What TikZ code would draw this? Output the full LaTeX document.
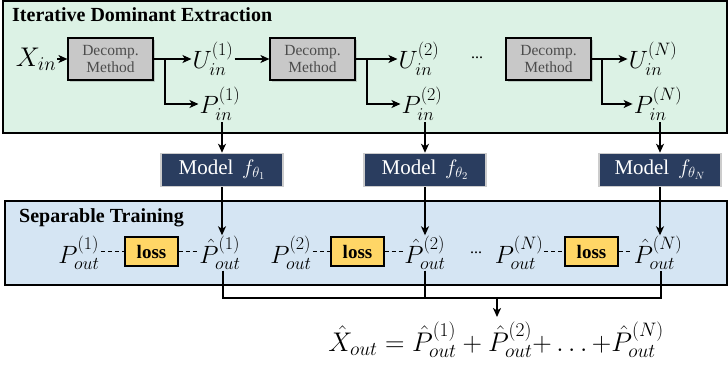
\RequirePackage{fix-cm}
\documentclass[tikz,border=0pt]{standalone}
\usepackage{amsmath}
\usepackage[no-math]{fontspec}
\setmainfont{Liberation Serif}
\usetikzlibrary{arrows.meta,shadows}
\definecolor{mygreen}{RGB}{220,242,229}
\definecolor{myblue}{RGB}{213,229,243}
\definecolor{mynavy}{RGB}{42,61,95}
\definecolor{mygray}{RGB}{200,200,200}
\definecolor{myyellow}{RGB}{255,214,102}
\DeclareMathSizes{25}{25}{18}{14}
\DeclareMathSizes{27}{27}{19.5}{15}

\begin{document}
\begin{tikzpicture}[x=1pt,y=-1pt,
  arr/.style={line width=1.3pt,-{Stealth[length=9pt,width=8pt,inset=2.5pt]}},
  ln/.style={line width=1.3pt},
  dsh/.style={line width=1pt,dash pattern=on 4pt off 3pt},
  decomp/.style={draw,line width=1.2pt,fill=mygray,minimum width=85pt,minimum height=42pt,
    align=center,text=black!70,font=\fontsize{15.5}{17}\selectfont,inner sep=0pt,
    drop shadow={shadow xshift=1.5pt,shadow yshift=-2pt,opacity=0.35}},
  model/.style={draw=black!20,line width=1.5pt,fill=mynavy,text=white,minimum width=122pt,
    minimum height=33pt,font=\fontsize{21}{24}\selectfont,inner sep=0pt},
  lossbox/.style={draw,line width=1.2pt,fill=myyellow,minimum width=53pt,minimum height=29pt,
    font=\fontsize{19}{22}\selectfont\bfseries,inner sep=0pt},
  sym/.style={font=\fontsize{25}{28}\selectfont,inner sep=1pt},
  ttl/.style={font=\fontsize{20}{24}\selectfont\bfseries,anchor=base west,inner sep=0pt}]
  \useasboundingbox (0,0) rectangle (728,368);

  % Panels
  \draw[line width=1.2pt,fill=mygreen] (3,1) rectangle (727,133);
  \draw[line width=1.2pt,fill=myblue] (5,201) rectangle (727,285);
  \node[ttl] (ttl1) at (12,21) {Iterative Dominant Extraction};
  \node[ttl] (ttl2) at (19,222) {Separable Training};

  % Extraction chain
  \node[sym,font=\fontsize{27}{30}\selectfont] (xin) at (36,59) {$X_{in}$};
  \node[decomp] (dm1) at (110.5,59) {Decomp.\\Method};
  \node[sym] (u1) at (213,59) {$U_{in}^{(1)}$};
  \node[sym] (p1) at (220,104) {$P_{in}^{(1)}$};
  \node[decomp] (dm2) at (312.5,59) {Decomp.\\Method};
  \node[sym] (u2) at (419,59) {$U_{in}^{(2)}$};
  \node[sym] (p2) at (422,104) {$P_{in}^{(2)}$};
  \node[font=\fontsize{16}{18}\selectfont] (dots1) at (477,58) {...};
  \node[decomp] (dm3) at (548.5,59) {Decomp.\\Method};
  \node[sym] (u3) at (653,59) {$U_{in}^{(N)}$};
  \node[sym] (p3) at (658,104) {$P_{in}^{(N)}$};

  \coordinate (b1) at (165,59);
  \coordinate (b2) at (367,59);
  \coordinate (b3) at (602,59);

  \draw[arr] (xin) -- (dm1);
  \draw[ln] (dm1.east) -- (b1);
  \draw[arr] (b1) -- (u1.west);
  \draw[arr] (b1) |- (p1.west);
  \draw[arr] (u1) -- (dm2);
  \draw[ln] (dm2.east) -- (b2);
  \draw[arr] (b2) -- (u2.west);
  \draw[arr] (b2) |- (p2.west);
  \draw[ln] (dm3.east) -- (b3);
  \draw[arr] (b3) -- (u3.west);
  \draw[arr] (b3) |- (p3.west);

  % Models
  \node[model] (md1) at (222,170) {Model \,$f_{\theta_1}$};
  \node[model] (md2) at (425,170) {Model \,$f_{\theta_2}$};
  \node[model] (md3) at (660,170) {Model \,$f_{\theta_N}$};

  \draw[arr] (p1.south -| md1.north) -- (md1.north);
  \draw[arr] (p2.south -| md2.north) -- (md2.north);
  \draw[arr] (p3.south -| md3.north) -- (md3.north);

  % Training row
  \node[sym] (po1) at (79,253) {$P_{out}^{(1)}$};
  \node[lossbox] (ls1) at (151.5,251.5) {loss};
  \node[sym] (ph1) at (220,253) {$\hat{P}_{out}^{(1)}$};
  \node[sym] (po2) at (291,253) {$P_{out}^{(2)}$};
  \node[lossbox] (ls2) at (357.5,251.5) {loss};
  \node[sym] (ph2) at (425,253) {$\hat{P}_{out}^{(2)}$};
  \node[font=\fontsize{16}{18}\selectfont] (dots2) at (476,253) {...};
  \node[sym] (po3) at (519,253) {$P_{out}^{(N)}$};
  \node[lossbox] (ls3) at (591.5,251.5) {loss};
  \node[sym] (ph3) at (658,253) {$\hat{P}_{out}^{(N)}$};

  \draw[arr] (md1.south) -- (ph1.north -| md1.south);
  \draw[arr] (md2.south) -- (ph2.north -| md2.south);
  \draw[arr] (md3.south) -- (ph3.north -| md3.south);

  \draw[dsh] (po1.east |- ls1) -- (ls1.west);
  \draw[dsh] (ls1.east) -- (ph1.west |- ls1);
  \draw[dsh] (po2.east |- ls2) -- (ls2.west);
  \draw[dsh] (ls2.east) -- (ph2.west |- ls2);
  \draw[dsh] (po3.east |- ls3) -- (ls3.west);
  \draw[dsh] (ls3.east) -- (ph3.west |- ls3);

  % Sum
  \coordinate (q1) at (223,298);
  \coordinate (q2) at (425,298);
  \coordinate (q3) at (661,298);
  \coordinate (qm) at (497,298);
  \coordinate (qe) at (497,317);
  \draw[ln] (ph1.south -| q1) -- (q1) -- (q3) -- (ph3.south -| q3);
  \draw[ln] (ph2.south -| q2) -- (q2);
  \draw[arr,line width=2pt] (qm) -- (qe);
  \node[sym,font=\fontsize{27}{30}\selectfont] (eq) at (496,340)
    {$\hat{X}_{out}=\hat{P}_{out}^{(1)}+\hat{P}_{out}^{(2)}{+}\ldots{+}\hat{P}_{out}^{(N)}$};
\end{tikzpicture}
\end{document}
